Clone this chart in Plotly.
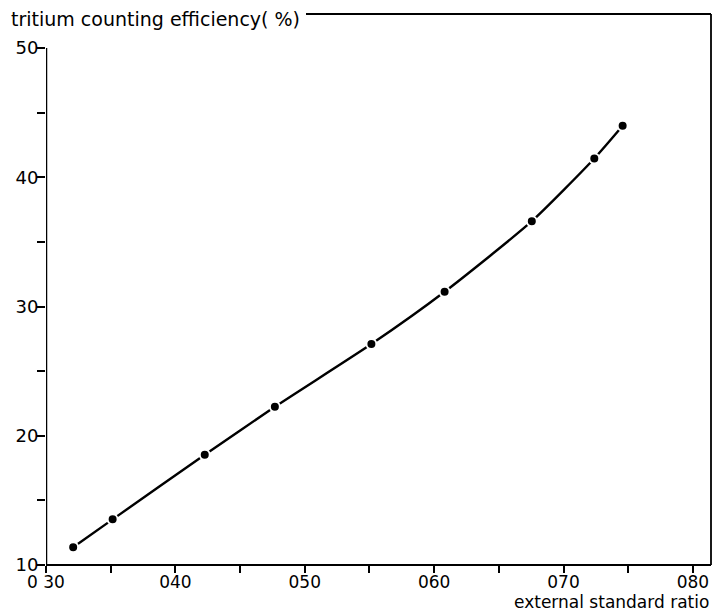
import plotly.graph_objects as go

# data
esr = [0.321, 0.3515, 0.4227, 0.4769, 0.5515, 0.6081, 0.6755, 0.7238, 0.7457]
efficiency = [11.37, 13.53, 18.53, 22.24, 27.09, 31.14, 36.6, 41.45, 43.98]

x_ticks = [0.30, 0.40, 0.50, 0.60, 0.70, 0.80]
x_ticklabels = ["0 30", "040", "050", "060", "070", "080"]
x_minor = [0.35, 0.45, 0.55, 0.65, 0.75]
y_ticks = [10, 20, 30, 40, 50]
y_ticklabels = ["10", "20", "30", "40", "50"]
y_minor = [15, 25, 35, 45]

FONT = "DejaVu Sans"
W, H = 713, 612
# plot area in screen pixels: x 46..711, y 14..565
L, R, T, B = 46, W - 711, 14, H - 565
pw = W - L - R
ph = H - T - B

fig = go.Figure()
fig.add_trace(go.Scatter(
    x=esr, y=efficiency, mode="lines+markers",
    line=dict(color="black", width=2.4, shape="spline", smoothing=0.6),
    marker=dict(color="black", size=10, line=dict(color="white", width=2)),
    showlegend=False, hoverinfo="skip"))

tick_common = dict(ticks="outside", tickwidth=1.5, tickcolor="black",
                   showgrid=False, zeroline=False, showline=False)

fig.update_layout(
    width=W, height=H,
    margin=dict(l=L, r=R, t=T, b=B, autoexpand=False),
    paper_bgcolor="white", plot_bgcolor="white",
    font=dict(family=FONT, color="black", size=17),
    xaxis=dict(range=[0.30, 0.814], tickvals=x_ticks, ticktext=x_ticklabels,
               ticklen=7, ticklabelstandoff=-5,
               tickfont=dict(size=17, family=FONT, color="black"),
               minor=dict(tickvals=x_minor, ticks="outside", ticklen=7,
                          tickwidth=1.5, tickcolor="black"),
               **tick_common),
    yaxis=dict(range=[10, 52.63], tickvals=y_ticks, ticktext=y_ticklabels,
               ticklen=8, ticklabelstandoff=-5,
               tickfont=dict(size=18, family=FONT, color="black"),
               minor=dict(tickvals=y_minor, ticks="outside", ticklen=8,
                          tickwidth=1.5, tickcolor="black"),
               **tick_common),
)

# frame: left axis only up to 50, bottom, right, and top line after the title
fig.add_shape(type="line", xref="x", yref="y", x0=0.30, x1=0.30, y0=10, y1=50,
              line=dict(color="black", width=2.5))
fig.add_shape(type="line", xref="paper", yref="paper", x0=0, x1=1, y0=0, y1=0,
              line=dict(color="black", width=2.2))
fig.add_shape(type="line", xref="paper", yref="paper", x0=1, x1=1, y0=0, y1=1,
              line=dict(color="black", width=1.8))
fig.add_shape(type="line", xref="paper", yref="paper", x0=(306 - L) / pw, x1=1,
              y0=1, y1=1, line=dict(color="black", width=2.2))

fig.add_annotation(text="tritium counting efficiency( %)", xref="paper", yref="paper",
                   x=(9 - L) / pw, y=(565 - 19) / ph, xanchor="left", yanchor="middle",
                   showarrow=False, font=dict(size=19, family=FONT))
fig.add_annotation(text="external standard ratio", xref="paper", yref="paper",
                   x=(711 - L) / pw, y=(565 - 602) / ph, xanchor="right", yanchor="middle",
                   showarrow=False, font=dict(size=17, family=FONT))

fig.write_html("out.html", config={"displayModeBar": False},
               post_script="document.body.style.margin='0';")
